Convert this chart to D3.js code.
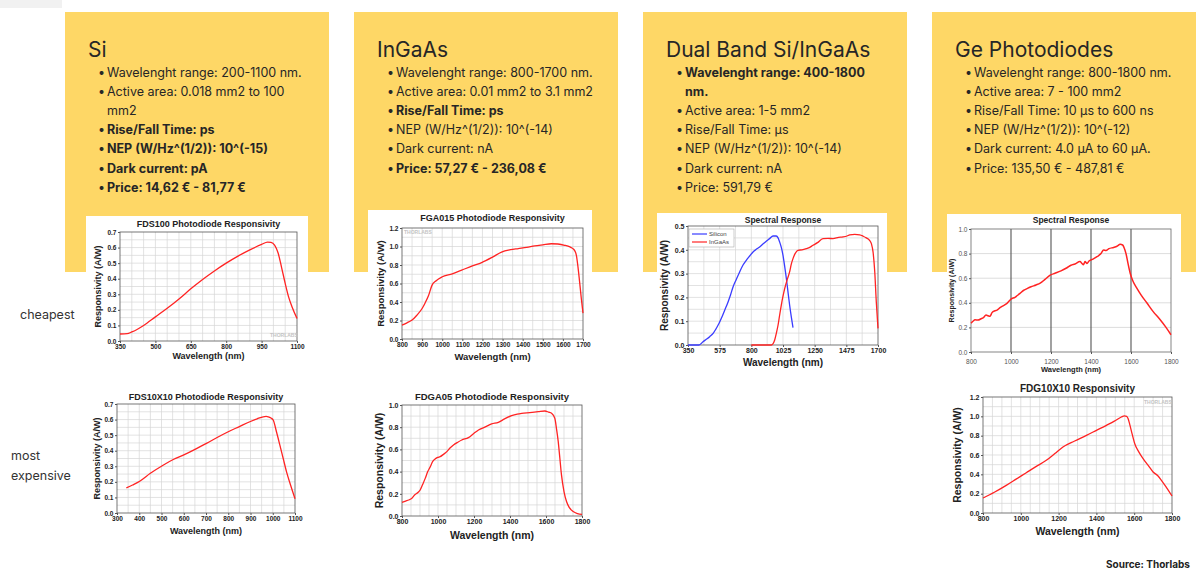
<!DOCTYPE html>
<html>
<head>
<meta charset="utf-8">
<title>Photodiode comparison</title>
<style>
  body{margin:0;background:#fff;}
  svg{display:block;}
  .box-title{font-family:Inter,'Noto Sans',sans-serif;font-size:21px;fill:#262626;}
  .box-item{font-family:Inter,'Noto Sans',sans-serif;font-size:12.5px;fill:#262626;}
  .side{font-family:Inter,'Noto Sans',sans-serif;font-size:12.5px;fill:#333;}
  .chart text{font-family:'Liberation Sans',Arial,sans-serif;}
</style>
</head>
<body>
<script src="https://d3js.org/d3.v7.min.js"></script>
<script>

// ---- text of the four cards ----
var boxTitles = ["Si", "InGaAs", "Dual Band Si/InGaAs", "Ge Photodiodes"];
var siSpecs = ["Wavelenght range: 200-1100 nm.", "Active area: 0.018 mm2 to 100\nmm2", "Rise/Fall Time: ps",
  "NEP (W/Hz^(1/2)): 10^(-15)", "Dark current: pA", "Price: 14,62 € - 81,77 €"];
var ingaasSpecs = ["Wavelenght range: 800-1700 nm.", "Active area: 0.01 mm2 to 3.1 mm2", "Rise/Fall Time: ps",
  "NEP (W/Hz^(1/2)): 10^(-14)", "Dark current: nA", "Price: 57,27 € - 236,08 €"];
var dualSpecs = ["Wavelenght range: 400-1800\nnm.", "Active area: 1-5 mm2", "Rise/Fall Time: µs",
  "NEP (W/Hz^(1/2)): 10^(-14)", "Dark current: nA", "Price: 591,79 €"];
var geSpecs = ["Wavelenght range: 800-1800 nm.", "Active area: 7 - 100 mm2", "Rise/Fall Time: 10 µs to 600 ns",
  "NEP (W/Hz^(1/2)): 10^(-12)", "Dark current: 4.0 µA to 60 µA.", "Price: 135,50 € - 487,81 €"];

// ---- responsivity curves [wavelength nm, A/W] ----
var fds100 = [[350,0.045],[380,0.047],[400,0.058],[450,0.10],[500,0.155],[550,0.21],[600,0.27],[650,0.335],
  [700,0.395],[750,0.45],[800,0.5],[850,0.545],[900,0.585],[950,0.62],[975,0.635],[990,0.633],[1005,0.615],
  [1020,0.565],[1035,0.47],[1050,0.37],[1065,0.28],[1080,0.215],[1100,0.145]];
var fga015 = [[800,0.15],[825,0.175],[850,0.205],[875,0.26],[900,0.33],[915,0.39],[932,0.47],[949,0.58],[970,0.63],
  [998,0.67],[1050,0.705],[1097,0.745],[1150,0.79],[1196,0.826],[1250,0.885],[1295,0.94],[1340,0.965],[1378,0.977],
  [1420,0.99],[1460,1.006],[1500,1.018],[1543,1.03],[1575,1.027],[1609,1.013],[1635,0.995],[1650,0.977],[1660,0.95],
  [1667,0.905],[1675,0.78],[1683,0.62],[1692,0.43],[1700,0.28]];
var dualSi = [[350,0],[428,0],[457,0.014],[480,0.024],[504,0.035],[530,0.05],[551,0.07],[570,0.09],[587,0.112],
  [610,0.145],[634,0.18],[652,0.21],[670,0.244],[693,0.275],[717,0.307],[740,0.335],[764,0.356],[790,0.375],
  [812,0.391],[835,0.402],[859,0.412],[882,0.424],[906,0.436],[930,0.447],[954,0.458],[977,0.458],[990,0.45],
  [1001,0.433],[1013,0.41],[1025,0.377],[1037,0.33],[1049,0.279],[1060,0.225],[1072,0.168],[1084,0.118],[1096,0.073]];
var dualInGaAs = [[800,0],[942,0],[966,0.021],[978,0.05],[990,0.084],[1001,0.125],[1013,0.168],[1025,0.205],
  [1037,0.237],[1055,0.275],[1072,0.307],[1084,0.34],[1096,0.363],[1112,0.385],[1131,0.398],[1160,0.4],
  [1191,0.405],[1215,0.41],[1238,0.419],[1270,0.43],[1309,0.447],[1345,0.448],[1380,0.447],[1420,0.452],
  [1451,0.454],[1480,0.458],[1499,0.463],[1535,0.465],[1570,0.463],[1595,0.457],[1617,0.45],[1640,0.44],
  [1653,0.426],[1665,0.39],[1677,0.307],[1688,0.18],[1700,0.07]];
var geSpectral = [[800,0.235],[810,0.25],[820,0.262],[835,0.26],[850,0.27],[862,0.28],[875,0.3],[885,0.295],
  [895,0.29],[905,0.32],[920,0.335],[930,0.34],[945,0.36],[960,0.375],[980,0.395],[1000,0.43],[1020,0.445],
  [1040,0.47],[1062,0.5],[1080,0.515],[1100,0.53],[1125,0.545],[1146,0.56],[1170,0.59],[1196,0.625],[1220,0.64],
  [1250,0.66],[1280,0.685],[1300,0.705],[1320,0.715],[1345,0.735],[1355,0.72],[1362,0.71],[1370,0.735],
  [1380,0.72],[1390,0.74],[1410,0.755],[1430,0.775],[1450,0.8],[1463,0.83],[1475,0.825],[1490,0.84],[1513,0.85],
  [1530,0.86],[1546,0.876],[1558,0.87],[1565,0.85],[1575,0.8],[1585,0.72],[1596,0.64],[1610,0.575],[1629,0.52],
  [1650,0.465],[1679,0.4],[1710,0.33],[1746,0.262],[1775,0.2],[1800,0.14]];
var fds10x10 = [[342,0.161],[370,0.18],[402,0.204],[450,0.255],[507,0.307],[555,0.345],[605,0.376],[655,0.412],
  [702,0.447],[750,0.485],[800,0.522],[850,0.555],[897,0.586],[930,0.605],[957,0.618],[970,0.62],[980,0.618],
  [992,0.61],[1002,0.597],[1017,0.52],[1032,0.436],[1047,0.35],[1062,0.264],[1080,0.18],[1100,0.092]];
var fdga05 = [[800,0.123],[820,0.135],[837,0.144],[855,0.16],[870,0.19],[883,0.204],[901,0.234],[915,0.285],
  [929,0.339],[943,0.4],[957,0.444],[970,0.49],[984,0.514],[998,0.528],[1012,0.535],[1030,0.555],[1049,0.58],
  [1068,0.615],[1086,0.64],[1110,0.665],[1132,0.685],[1169,0.706],[1200,0.745],[1225,0.775],[1260,0.8],
  [1298,0.829],[1335,0.844],[1370,0.875],[1409,0.904],[1440,0.918],[1465,0.925],[1510,0.932],[1557,0.94],
  [1594,0.946],[1615,0.935],[1631,0.925],[1649,0.88],[1658,0.79],[1668,0.67],[1677,0.52],[1686,0.37],
  [1700,0.22],[1714,0.13],[1730,0.075],[1751,0.04],[1775,0.022],[1800,0.015]];
var fdg10x10 = [[800,0.155],[860,0.215],[923,0.286],[975,0.35],[1029,0.417],[1080,0.48],[1135,0.545],
  [1180,0.615],[1223,0.683],[1285,0.745],[1347,0.803],[1400,0.855],[1453,0.907],[1495,0.95],[1532,0.993],
  [1548,1.005],[1560,1.0],[1568,0.975],[1576,0.92],[1590,0.81],[1603,0.717],[1625,0.63],[1647,0.562],
  [1675,0.49],[1700,0.424],[1725,0.385],[1744,0.338],[1770,0.265],[1800,0.176]];

// ---- tick labels ----
var ticksFds100X = [350, 500, 650, 800, 950, 1100];
var ticks800to1700 = [800, 900, 1000, 1100, 1200, 1300, 1400, 1500, 1600, 1700];
var ticksDualX = [350, 575, 800, 1025, 1250, 1475, 1700];
var ticks800to1800 = [800, 1000, 1200, 1400, 1600, 1800];
var ticks300to1100 = [300, 400, 500, 600, 700, 800, 900, 1000, 1100];
var ticksY07 = [0, 0.1, 0.2, 0.3, 0.4, 0.5, 0.6, 0.7];
var ticksY12 = [0, 0.2, 0.4, 0.6, 0.8, 1.0, 1.2];
var ticksY05 = [0, 0.1, 0.2, 0.3, 0.4, 0.5];
var ticksY10 = [0, 0.2, 0.4, 0.6, 0.8, 1.0];

var W = 1203, H = 571;
var svg = d3.select("body").append("svg").attr("width", W).attr("height", H);
var defs = svg.append("defs");

svg.append("rect").attr("x", 0).attr("y", 0).attr("width", 62).attr("height", 8).attr("fill", "#f1f1f1");

// ---- yellow cards ----
var boxX = [65, 354, 643, 932];
var boxSpecs = [siSpecs, ingaasSpecs, dualSpecs, geSpecs];
var boldItems = [[2, 3, 4, 5], [2, 5], [0], []];

boxX.forEach(function(bx, i){
  var g = svg.append("g");
  g.append("rect").attr("x", bx).attr("y", 12).attr("width", 264).attr("height", 260).attr("fill", "#fed766");
  g.append("text").attr("class", "box-title").attr("x", bx + 23).attr("y", 57).text(boxTitles[i]);
  var row = 0;
  boxSpecs[i].forEach(function(item, j){
    var bold = boldItems[i].indexOf(j) >= 0;
    item.split("\n").forEach(function(part, k){
      var yy = 76.5 + row * 19.2;
      if (k === 0) {
        g.append("text").attr("class", "box-item").attr("x", bx + 33).attr("y", yy).text("•");
      }
      g.append("text").attr("class", "box-item").attr("x", bx + 42).attr("y", yy)
        .attr("font-weight", bold ? 700 : 400).text(part);
      row++;
    });
  });
});

svg.append("text").attr("class", "side").attr("x", 20).attr("y", 318.5).text("cheapest");
svg.append("text").attr("class", "side").attr("x", 11).attr("y", 459.5).text("most");
svg.append("text").attr("class", "side").attr("x", 11).attr("y", 479.5).text("expensive");
svg.append("text").attr("x", 1106).attr("y", 568).attr("font-family", "Inter, sans-serif")
  .attr("font-size", 10).attr("font-weight", 700).attr("fill", "#222").text("Source: Thorlabs");

// ---- chart drawing ----
function drawChart(c){
  defs.append("clipPath").attr("id", "clip-" + c.id).append("rect")
    .attr("x", c.panel[0]).attr("y", c.panel[1]).attr("width", c.panel[2]).attr("height", c.panel[3]);
  var g = svg.append("g").attr("class", "chart").attr("clip-path", "url(#clip-" + c.id + ")");
  g.append("rect").attr("x", c.panel[0]).attr("y", c.panel[1]).attr("width", c.panel[2]).attr("height", c.panel[3])
    .attr("fill", "#fff");

  var p = c.plot;
  var x = d3.scaleLinear().domain(c.xDomain).range([p.left, p.right]);
  var y = d3.scaleLinear().domain(c.yDomain).range([p.bottom, p.top]);

  var xg = d3.range(c.xDomain[0] + c.xGrid, c.xDomain[1] - 1e-6, c.xGrid);
  var yg = d3.range(c.yDomain[0] + c.yGrid, c.yDomain[1] - 1e-6, c.yGrid);
  g.append("g").selectAll("line").data(yg).join("line")
    .attr("x1", p.left).attr("x2", p.right).attr("y1", function(d){ return y(d); }).attr("y2", function(d){ return y(d); })
    .attr("stroke", c.hGridColor || "#d6d6d6").attr("stroke-width", 0.7);
  g.append("g").selectAll("line").data(xg).join("line")
    .attr("y1", p.top).attr("y2", p.bottom).attr("x1", function(d){ return x(d); }).attr("x2", function(d){ return x(d); })
    .attr("stroke", c.vGridColor || "#d6d6d6").attr("stroke-width", c.vGridWidth || 0.7);

  g.append("rect").attr("x", p.left).attr("y", p.top).attr("width", p.right - p.left).attr("height", p.bottom - p.top)
    .attr("fill", "none").attr("stroke", c.borderColor || "#555").attr("stroke-width", 0.8);

  var fmtY = d3.format(".1f");
  var ax = g.append("g").attr("transform", "translate(0," + p.bottom + ")")
    .call(d3.axisBottom(x).tickValues(c.xTicks).tickSize(2).tickPadding(c.xPad || 1.5).tickFormat(d3.format("d")));
  var ay = g.append("g").attr("transform", "translate(" + p.left + ",0)")
    .call(d3.axisLeft(y).tickValues(c.yTicks).tickSize(2).tickPadding(1.5).tickFormat(fmtY));
  [ax, ay].forEach(function(a){
    a.select(".domain").remove();
    a.attr("font-size", c.tickFont).attr("font-family", "'Liberation Sans', Arial, sans-serif")
      .attr("font-weight", c.tickWeight || 700).attr("color", c.tickColor || "#222");
    a.selectAll(".tick line").attr("stroke", "#555");
  });

  var ln = d3.line().x(function(d){ return x(d[0]); }).y(function(d){ return y(d[1]); }).curve(d3.curveMonotoneX);
  c.series.forEach(function(s){
    g.append("path").datum(s.data).attr("d", ln).attr("fill", "none").attr("stroke", s.color)
      .attr("stroke-width", c.lineWidth || 1.3).attr("stroke-linejoin", "round");
  });

  if (c.legend) {
    var lg = g.append("g");
    lg.append("rect").attr("x", p.left + 1).attr("y", p.top + 3).attr("width", 45).attr("height", 18)
      .attr("fill", "#fff").attr("stroke", "#aaa").attr("stroke-width", 0.6);
    c.series.forEach(function(s, i){
      var ly = p.top + 8 + i * 8;
      lg.append("line").attr("x1", p.left + 4).attr("x2", p.left + 19).attr("y1", ly).attr("y2", ly)
        .attr("stroke", s.color).attr("stroke-width", 1.2);
      lg.append("text").attr("x", p.left + 21).attr("y", ly).attr("dy", "0.35em").attr("font-size", 6)
        .attr("fill", "#444").text(s.name);
    });
  }

  if (c.mark) {
    g.append("text").attr("x", c.mark[0]).attr("y", c.mark[1]).attr("font-size", 5).attr("font-weight", 700)
      .attr("fill", "#c4c4c4").text("THORLABS");
  }

  g.append("text").attr("x", (p.left + p.right) / 2).attr("y", c.titleY).attr("dy", "0.35em")
    .attr("text-anchor", "middle").attr("font-size", c.titleFont).attr("font-weight", 700).attr("fill", "#222")
    .text(c.title);
  g.append("text").attr("x", (p.left + p.right) / 2).attr("y", c.xLabelY).attr("dy", "0.35em")
    .attr("text-anchor", "middle").attr("font-size", c.labelFont).attr("font-weight", 700).attr("fill", "#222")
    .text("Wavelength (nm)");
  g.append("text").attr("transform", "translate(" + c.yLabelX + "," + ((p.top + p.bottom) / 2) + ") rotate(-90)")
    .attr("dy", "0.35em").attr("text-anchor", "middle").attr("font-size", c.yLabelFont || c.labelFont)
    .attr("font-weight", 700).attr("fill", "#222").text("Responsivity (A/W)");
}

var red = "#ff2323", blue = "#3a3cff";

drawChart({id: "fds100", panel: [86, 216, 222, 148], plot: {left: 120, right: 297, top: 232, bottom: 341},
  xDomain: [350, 1100], xTicks: ticksFds100X, xGrid: 50, yDomain: [0, 0.7], yTicks: ticksY07, yGrid: 0.05,
  tickFont: 6.5, title: "FDS100 Photodiode Responsivity", titleY: 224, titleFont: 9,
  xLabelY: 356, labelFont: 9, yLabelX: 98, mark: [270, 337], series: [{data: fds100, color: red}]});

drawChart({id: "fga015", panel: [368, 210, 224, 155], plot: {left: 402, right: 583, top: 228, bottom: 339},
  xDomain: [800, 1700], xTicks: ticks800to1700, xGrid: 50, yDomain: [0, 1.2], yTicks: ticksY12, yGrid: 0.1,
  tickFont: 6.5, title: "FGA015 Photodiode Responsivity", titleY: 218, titleFont: 9,
  xLabelY: 357, labelFont: 9.5, yLabelX: 381, mark: [404, 234], series: [{data: fga015, color: red}]});

drawChart({id: "dual", panel: [657, 213, 230, 159], plot: {left: 688, right: 878, top: 226, bottom: 345},
  xDomain: [350, 1700], xTicks: ticksDualX, xGrid: 112.5, yDomain: [0, 0.5], yTicks: ticksY05, yGrid: 0.05,
  tickFont: 7, title: "Spectral Response", titleY: 220, titleFont: 8.5, legend: true,
  xLabelY: 362, labelFont: 10, yLabelX: 664,
  series: [{data: dualSi, color: blue, name: "Silicon"}, {data: dualInGaAs, color: red, name: "InGaAs"}]});

drawChart({id: "ge", panel: [947, 214, 234, 162], plot: {left: 971, right: 1171, top: 229, bottom: 352},
  xDomain: [800, 1800], xTicks: ticks800to1800, xGrid: 200, yDomain: [0, 1.0], yTicks: ticksY10, yGrid: 0.2,
  vGridColor: "#555", vGridWidth: 1.1, hGridColor: "#cfcfcf", borderColor: "#666", xPad: 5,
  tickFont: 6.5, tickWeight: 400, tickColor: "#555", title: "Spectral Response", titleY: 220, titleFont: 8.5,
  xLabelY: 369.5, labelFont: 7.5, yLabelFont: 7, yLabelX: 952, lineWidth: 1.5,
  series: [{data: geSpectral, color: red}]});

drawChart({id: "fds10x10", panel: [86, 388, 222, 155], plot: {left: 117, right: 295, top: 404, bottom: 513},
  xDomain: [300, 1100], xTicks: ticks300to1100, xGrid: 50, yDomain: [0, 0.7], yTicks: ticksY07, yGrid: 0.05,
  tickFont: 6.5, title: "FDS10X10 Photodiode Responsivity", titleY: 397, titleFont: 9,
  xLabelY: 531, labelFont: 9, yLabelX: 97, series: [{data: fds10x10, color: red}]});

drawChart({id: "fdga05", panel: [368, 388, 224, 160], plot: {left: 402, right: 582, top: 405, bottom: 516},
  xDomain: [800, 1800], xTicks: ticks800to1800, xGrid: 50, yDomain: [0, 1.0], yTicks: ticksY10, yGrid: 0.1,
  tickFont: 7, title: "FDGA05 Photodiode Responsivity", titleY: 397, titleFont: 9.5,
  xLabelY: 535, labelFont: 10.5, yLabelX: 379, series: [{data: fdga05, color: red}]});

drawChart({id: "fdg10x10", panel: [947, 378, 234, 165], plot: {left: 983, right: 1172, top: 397, bottom: 513},
  xDomain: [800, 1800], xTicks: ticks800to1800, xGrid: 50, yDomain: [0, 1.2], yTicks: ticksY12, yGrid: 0.1,
  tickFont: 7, title: "FDG10X10 Responsivity", titleY: 388, titleFont: 10,
  xLabelY: 531, labelFont: 10.5, yLabelX: 957, mark: [1144, 404], series: [{data: fdg10x10, color: red}]});
</script>
</body>
</html>
